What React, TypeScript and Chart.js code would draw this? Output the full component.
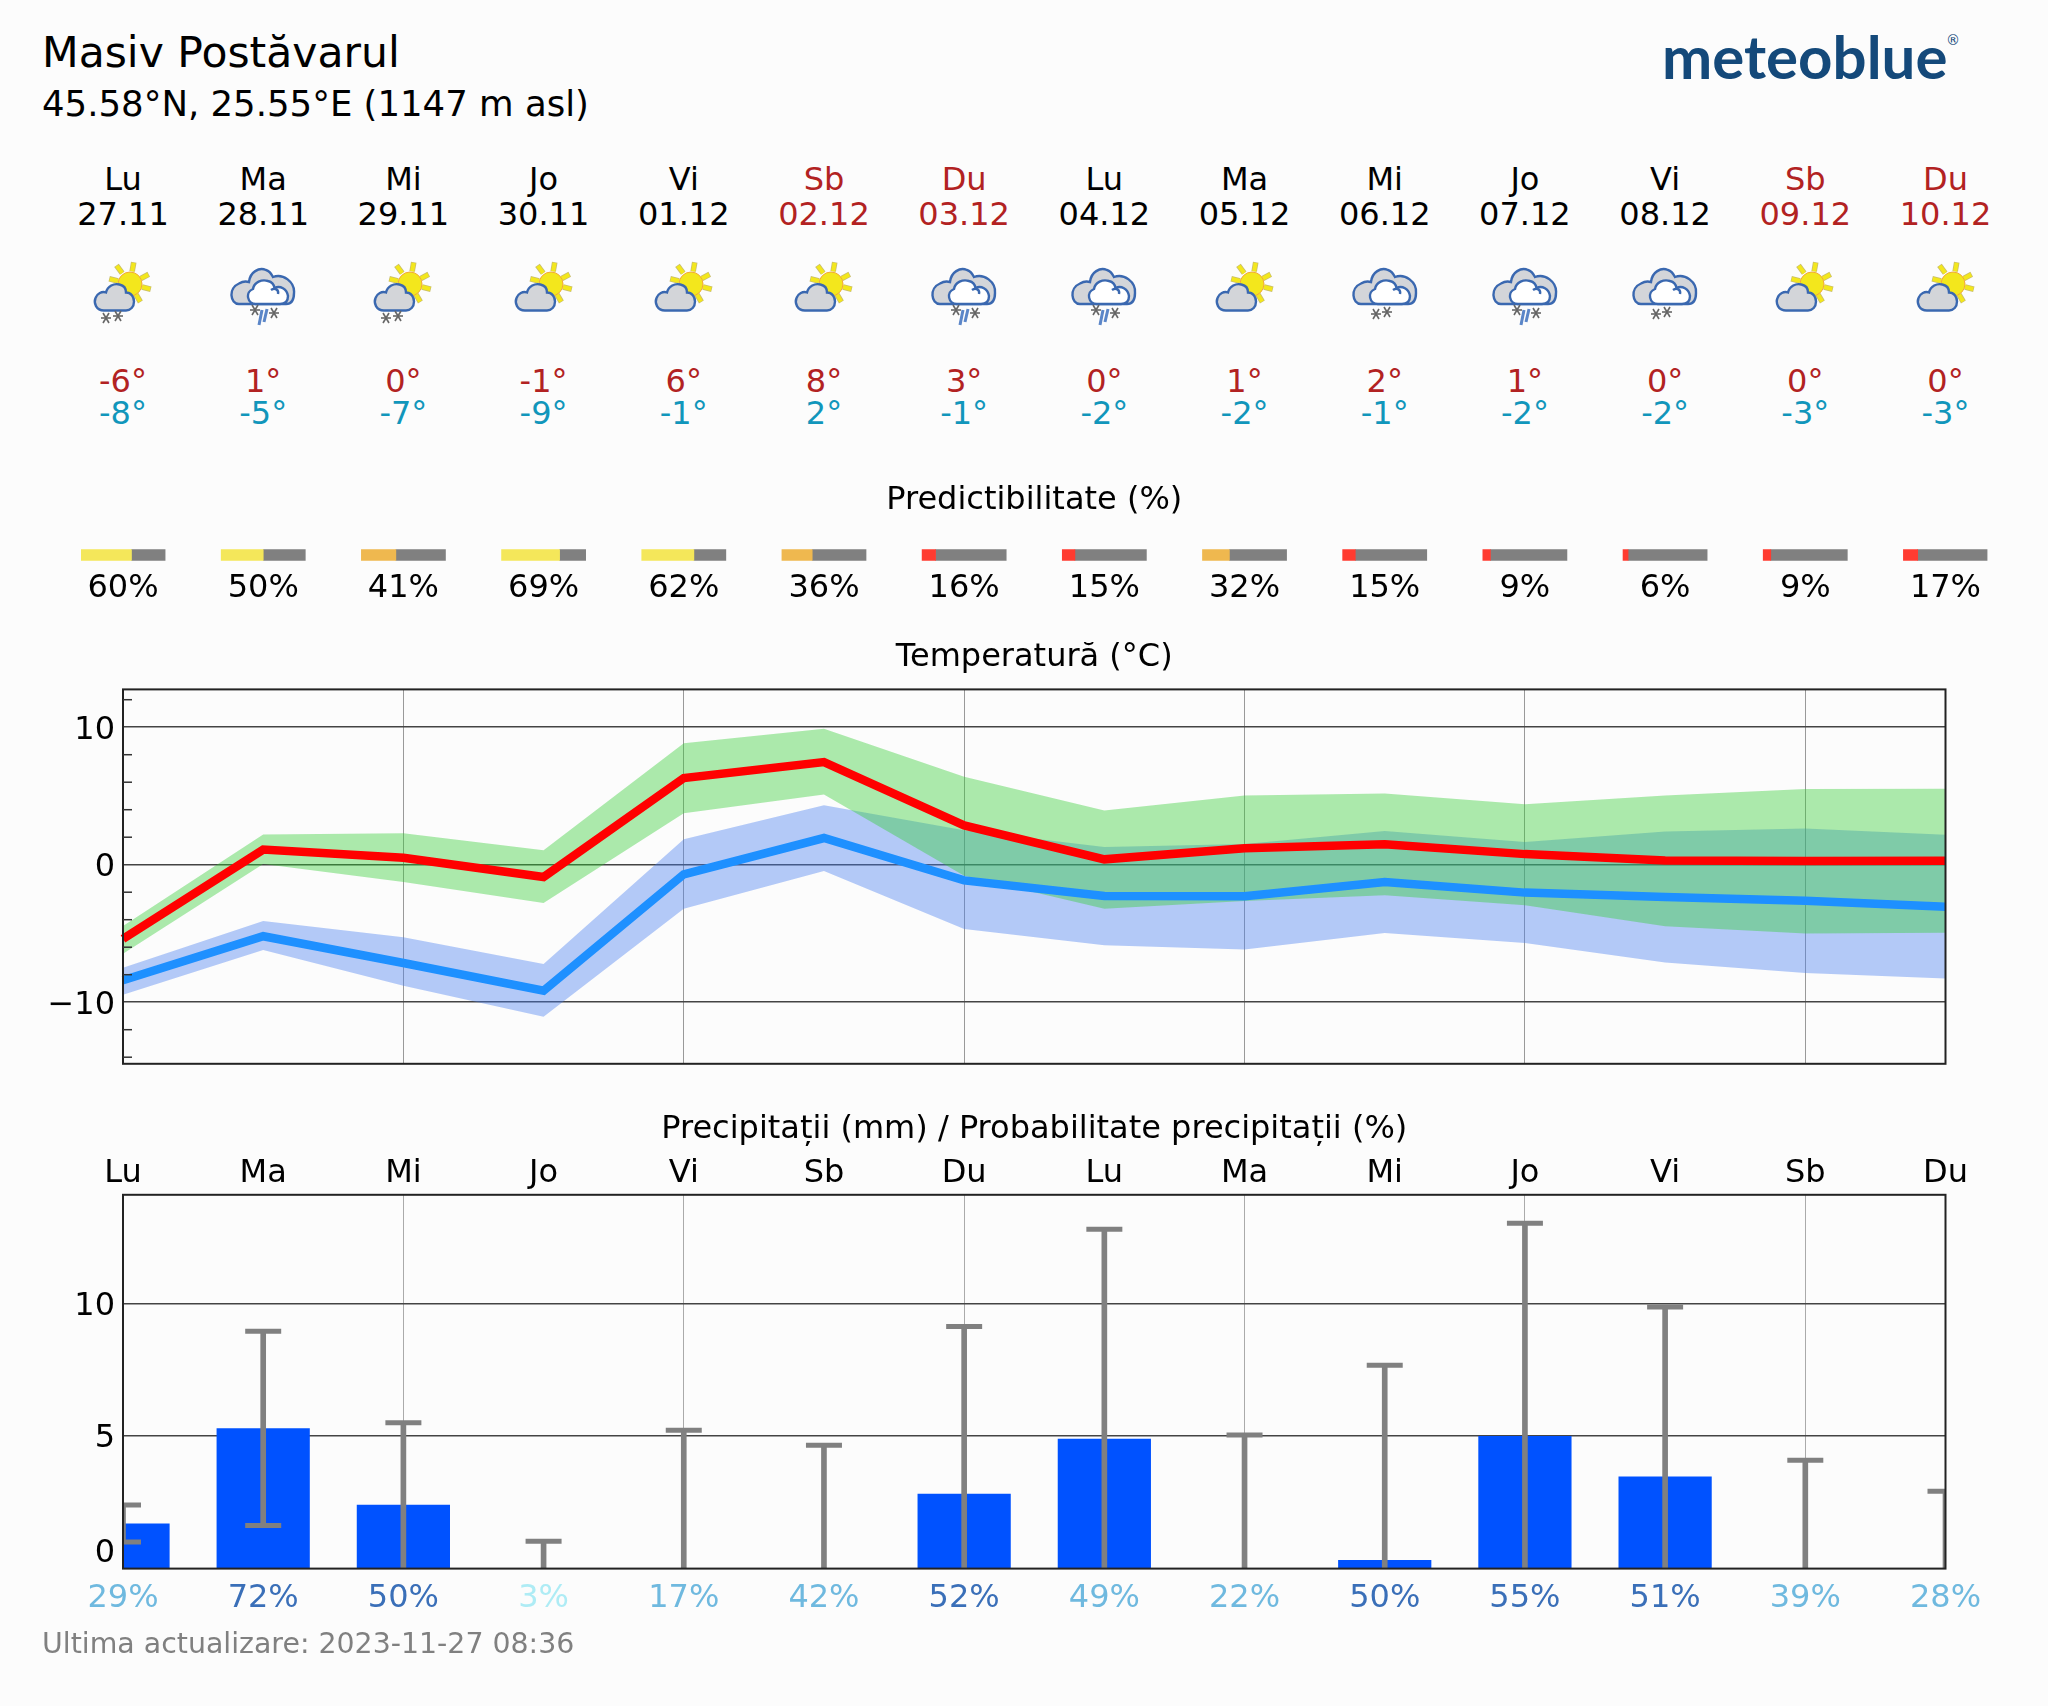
import React, { useEffect, useRef } from "react";
import Chart from "chart.js/auto";

const dayNames = ["Lu", "Ma", "Mi", "Jo", "Vi", "Sb", "Du", "Lu", "Ma", "Mi", "Jo", "Vi", "Sb", "Du"];
const dates = ["27.11", "28.11", "29.11", "30.11", "01.12", "02.12", "03.12", "04.12", "05.12", "06.12", "07.12", "08.12", "09.12", "10.12"];
const weatherIcons = ["sunSnow", "mixed", "sunSnow", "sun", "sun", "sun", "mixed", "mixed", "sun", "snow", "mixed", "snow", "sun", "sun"];
const highLabels = ["-6°", "1°", "0°", "-1°", "6°", "8°", "3°", "0°", "1°", "2°", "1°", "0°", "0°", "0°"];
const lowLabels = ["-8°", "-5°", "-7°", "-9°", "-1°", "2°", "-1°", "-2°", "-2°", "-1°", "-2°", "-2°", "-3°", "-3°"];
const predictability = [60, 50, 41, 69, 62, 36, 16, 15, 32, 15, 9, 6, 9, 17];

const maxTemp = [-5.4, 1.1, 0.5, -0.9, 6.3, 7.46, 2.86, 0.39, 1.2, 1.48, 0.77, 0.31, 0.27, 0.29];
const maxUpper = [-4.45, 2.2, 2.28, 1.06, 8.84, 9.88, 6.4, 3.95, 5.04, 5.18, 4.4, 5.04, 5.5, 5.52];
const maxLower = [-6.48, 0.05, -1.25, -2.78, 3.75, 5.1, -0.8, -3.2, -2.64, -2.23, -2.95, -4.48, -5.0, -4.94];
const minTemp = [-8.4, -5.2, -7.15, -9.17, -0.7, 1.94, -1.14, -2.28, -2.3, -1.26, -2.03, -2.35, -2.62, -3.05];
const minUpper = [-7.5, -4.09, -5.28, -7.23, 1.86, 4.33, 2.5, 1.28, 1.5, 2.45, 1.65, 2.42, 2.64, 2.18];
const minLower = [-9.45, -6.2, -8.8, -11.06, -3.2, -0.46, -4.67, -5.86, -6.17, -4.96, -5.69, -7.12, -7.87, -8.28];

const precipitation = [1.7, 5.29, 2.41, 0, 0, 0, 2.82, 4.9, 0, 0.32, 5.0, 3.47, 0, 0];
const precipHigh = [2.4, 8.95, 5.5, 1.03, 5.22, 4.65, 9.13, 12.8, 5.04, 7.67, 13.03, 9.87, 4.09, 2.92];
const precipLow = [1.0, 1.63, 0, 0, 0, 0, 0, 0, 0, 0, 0, 0, 0, 0];
const precipProbability = [29, 72, 50, 3, 17, 42, 52, 49, 22, 50, 55, 51, 39, 28];

const FONT = "'DejaVu Sans'";
const FS = 32;
const BG = "#fcfcfc";
const FIREBRICK = "#b22222";
const LEFT = 123;
const RIGHT = 1945.5;
const DAY = (RIGHT - LEFT) / 13;

const frame = {
  id: "frame",
  afterDraw(chart: any) {
    const { ctx, chartArea: a } = chart;
    ctx.save();
    ctx.strokeStyle = "#222";
    ctx.lineWidth = 2;
    ctx.strokeRect(a.left, a.top, a.right - a.left, a.bottom - a.top);
    ctx.restore();
  },
};

const innerMinorTicks = {
  id: "innerMinorTicks",
  afterDraw(chart: any) {
    const { ctx, chartArea: a, scales } = chart;
    ctx.save();
    ctx.strokeStyle = "#333";
    ctx.lineWidth = 1.5;
    for (const t of scales.y.ticks) {
      if (t.value % 10 === 0) continue;
      const y = scales.y.getPixelForValue(t.value);
      ctx.beginPath();
      ctx.moveTo(a.left, y);
      ctx.lineTo(a.left + 9, y);
      ctx.stroke();
    }
    ctx.restore();
  },
};

const verticalGrid = (color: string) => (c: any) =>
  c.index > 0 && c.index < 13 && c.index % 2 === 0 ? color : "transparent";

function tempChart(canvas: HTMLCanvasElement) {
  const band = (data: number[], target: number | false, fillColor: string) => ({
    type: "line",
    data,
    borderColor: "transparent",
    borderWidth: 0,
    pointRadius: 0,
    fill: target === false ? false : { target },
    backgroundColor: fillColor,
  });
  const line = (data: number[], color: string) => ({
    type: "line",
    data,
    borderColor: color,
    borderWidth: 8.5,
    borderJoinStyle: "miter",
    pointRadius: 0,
    fill: false,
  });
  return new Chart(canvas, {
    type: "line",
    data: {
      labels: dayNames,
      datasets: [
        line(maxTemp, "#ff0000"),
        line(minTemp, "#1e90ff"),
        band(maxUpper, 3, "rgba(50,205,50,0.4)"),
        band(maxLower, false, "transparent"),
        band(minUpper, 5, "rgba(70,125,240,0.4)"),
        band(minLower, false, "transparent"),
      ] as any,
    },
    plugins: [frame, innerMinorTicks],
    options: {
      animation: false,
      responsive: false,
      layout: { padding: { left: 43, right: 102.5, top: 6, bottom: 4 } },
      plugins: {
        legend: { display: false },
        tooltip: { enabled: false },
        title: {
          display: true,
          text: "Temperatură (°C)",
          fullSize: false,
          color: "#000",
          font: { family: FONT, size: FS, weight: "normal" },
          padding: { top: 0, bottom: 13 },
        },
      },
      scales: {
        x: {
          type: "category",
          offset: false,
          ticks: { display: false, autoSkip: false },
          grid: { color: verticalGrid("#999"), lineWidth: 1, drawTicks: false },
          border: { display: false },
        },
        y: {
          min: -14.48,
          max: 12.75,
          afterFit(s: any) {
            s.width = 80;
          },
          ticks: {
            stepSize: 2,
            includeBounds: false,
            autoSkip: false,
            padding: 8,
            labelOffset: 3,
            color: "#000",
            font: { family: FONT, size: FS },
            callback: (v: any) => (v % 10 === 0 ? (v < 0 ? "\u2212" + Math.abs(v) : String(v)) : ""),
          },
          grid: {
            drawTicks: false,
            lineWidth: 1.5,
            color: (c: any) => (c.tick && c.tick.value % 10 === 0 ? "#444" : "transparent"),
          },
          border: { display: false },
        },
      },
    } as any,
  });
}

const ZERO_LABEL_VALUE = 0.67;
const probabilityColor = (p: number) => (p < 10 ? "#aeecf5" : p < 50 ? "#6fb9df" : "#3a6fb8");

function precipChart(canvas: HTMLCanvasElement) {
  const caps = (data: (number | null)[]) => ({
    type: "line",
    data,
    showLine: false,
    clip: 0,
    pointStyle: "line",
    pointRadius: 18,
    pointBorderWidth: 5,
    pointBorderColor: "#808080",
    pointBackgroundColor: "#808080",
  });
  return new Chart(canvas, {
    type: "bar",
    data: {
      labels: dayNames,
      datasets: [
        caps(precipHigh),
        caps(precipLow.map((v) => (v > 0 ? v : null))),
        {
          type: "bar",
          data: precipHigh.map((h, i) => [precipLow[i], h]),
          backgroundColor: "#808080",
          barThickness: 5,
          grouped: false,
        },
        {
          type: "bar",
          data: precipitation,
          backgroundColor: "#0052ff",
          barPercentage: 0.665,
          categoryPercentage: 1,
          grouped: false,
        },
      ] as any,
    },
    plugins: [frame],
    options: {
      animation: false,
      responsive: false,
      layout: { padding: { left: 43, right: 102.5, top: 6, bottom: 4 } },
      plugins: {
        legend: { display: false },
        tooltip: { enabled: false },
        title: {
          display: true,
          text: "Precipitații (mm) / Probabilitate precipitații (%)",
          fullSize: false,
          color: "#000",
          font: { family: FONT, size: FS, weight: "normal" },
          padding: { top: 0, bottom: 4 },
        },
      },
      scales: {
        x: {
          type: "category",
          position: "top",
          offset: false,
          ticks: {
            autoSkip: false,
            maxRotation: 0,
            padding: 2,
            color: "#000",
            font: { family: FONT, size: FS },
          },
          grid: { offset: false, color: verticalGrid("#aaa"), lineWidth: 1, drawTicks: false },
          border: { display: false },
        },
        x2: {
          type: "category",
          position: "bottom",
          offset: false,
          labels: precipProbability.map((p) => p + "%"),
          ticks: {
            autoSkip: false,
            maxRotation: 0,
            padding: 11,
            font: { family: FONT, size: FS },
            color: (c: any) => probabilityColor(precipProbability[c.index]),
          },
          grid: { display: false, drawTicks: false },
          border: { display: false },
        },
        y: {
          min: 0,
          max: 14.1,
          afterFit(s: any) {
            s.width = 80;
          },
          afterBuildTicks(s: any) {
            s.ticks = [{ value: ZERO_LABEL_VALUE }, { value: 5 }, { value: 10 }];
          },
          ticks: {
            autoSkip: false,
            padding: 8,
            labelOffset: 3,
            color: "#000",
            font: { family: FONT, size: FS },
            callback: (v: any) => (v === ZERO_LABEL_VALUE ? "0" : String(v)),
          },
          grid: {
            drawTicks: false,
            lineWidth: 1.5,
            color: (c: any) => (c.tick && c.tick.value !== ZERO_LABEL_VALUE ? "#444" : "transparent"),
          },
          border: { display: false },
        },
      },
    } as any,
  });
}

const predictabilityColor = (p: number) => (p >= 50 ? "#f4e75a" : p >= 20 ? "#efb84f" : "#ff3b30");
const BAR_HALF = 0.3;

function predictChart(canvas: HTMLCanvasElement) {
  const datasets: any[] = [];
  predictability.forEach((p, i) => {
    const start = i - BAR_HALF;
    const split = start + (2 * BAR_HALF * p) / 100;
    datasets.push({ data: [[start, split]], backgroundColor: predictabilityColor(p), barThickness: 11, grouped: false });
    datasets.push({ data: [[split, i + BAR_HALF]], backgroundColor: "#808080", barThickness: 11, grouped: false });
  });
  return new Chart(canvas, {
    type: "bar",
    data: { labels: [""], datasets },
    options: {
      animation: false,
      responsive: false,
      indexAxis: "y",
      layout: { padding: { left: 81, right: 60.5, top: 0, bottom: 0 } },
      plugins: {
        legend: { display: false },
        tooltip: { enabled: false },
        title: {
          display: true,
          text: "Predictibilitate (%)",
          fullSize: false,
          color: "#000",
          font: { family: FONT, size: FS, weight: "normal" },
          padding: { top: 0, bottom: 22 },
        },
      },
      scales: {
        x: {
          type: "linear",
          min: -BAR_HALF,
          max: 13 + BAR_HALF,
          afterBuildTicks(s: any) {
            s.ticks = predictability.map((_, i) => ({ value: i }));
          },
          ticks: {
            autoSkip: false,
            maxRotation: 0,
            padding: 1,
            color: "#000",
            font: { family: FONT, size: FS },
            callback: (v: any) => predictability[v] + "%",
          },
          grid: { display: false, drawTicks: false },
          border: { display: false },
        },
        y: {
          type: "category",
          ticks: { display: false },
          grid: { display: false, drawTicks: false },
          border: { display: false },
        },
      },
    } as any,
  });
}

function Txt({ x, y, color = "#000", size = FS, align = "center", children }: any) {
  const tx = align === "center" ? "-50%" : "0";
  return (
    <div
      style={{
        position: "absolute",
        left: x,
        top: y,
        transform: `translate(${tx},-50%)`,
        fontFamily: FONT,
        fontSize: size,
        lineHeight: 1.2,
        color,
        whiteSpace: "nowrap",
      }}
    >
      {children}
    </div>
  );
}

const sunRays = [[-13, -18], [3.6, -21], [18, -9.3], [20, 5], [10, 17.3], [-20, -5]];

function Flake({ x, y }: any) {
  return (
    <g stroke="#666" strokeWidth={1.6}>
      <line x1={x - 5} y1={y} x2={x + 5} y2={y} />
      <line x1={x - 3} y1={y - 5} x2={x + 3} y2={y + 5} />
      <line x1={x + 3} y1={y - 5} x2={x - 3} y2={y + 5} />
    </g>
  );
}

function WeatherIcon({ kind, x }: any) {
  const sunny = kind === "sun" || kind === "sunSnow";
  return (
    <svg
      viewBox="-40 255 80 80"
      width={80}
      height={80}
      style={{ position: "absolute", left: x - 40, top: 255, overflow: "visible" }}
    >
      {sunny && (
        <g>
          {sunRays.map(([dx, dy], i) => {
            const cx = 7;
            const s = 0.6;
            const e = 1.04;
            return (
              <g key={i}>
                <line x1={cx + dx * s} y1={284 + dy * s} x2={cx + dx * e} y2={284 + dy * e} stroke="#c9be6a" strokeWidth={5.6} />
                <line x1={cx + dx * s} y1={284 + dy * s} x2={cx + dx * e * 0.97} y2={284 + dy * e * 0.97} stroke="#f3e71c" strokeWidth={4} />
              </g>
            );
          })}
          <circle cx={7} cy={284} r={12} fill="#f3e71c" stroke="#f2a83a" strokeWidth={1} />
          <path
            d="M-19 310.5 C-27 310.5 -29.5 303 -27.5 298 C-26 293.5 -21 291 -17 292.5 C-15.5 286 -9 283 -3.5 284.5 C1 285.5 3 289 3 292.5 C8 292.5 11 297 11 301.5 C11 307 7.5 310.5 3 310.5 Z"
            fill="#d3d5d9"
            stroke="#3a68b0"
            strokeWidth={2.4}
          />
        </g>
      )}
      {!sunny && (
        <g stroke="#3a68b0" strokeWidth={2.4}>
          <path
            d="M-24 304 C-33 304 -35 288 -24 283.5 C-20 281 -17 281 -14 282 C-13 272 -4 267 3 270 C7 271 9 275 10 277 C20 273 32 282 31 293 C31 300 28 304 23 304 Z"
            fill="#d3d5d9"
          />
          <path
            d="M-7 304 C-16 304 -18 292 -10 289 C-9 282 -1 279 5 281 C9 282 11 285 11.5 288 C17 285 24 289 25 296 C25 301 22 304 17 304 Z"
            fill="#fff"
          />
          <path d="M8 290 C12 287 16 290 15 294" fill="none" />
        </g>
      )}
      {kind === "sunSnow" && (
        <g>
          <Flake x={-17} y={318} />
          <Flake x={-5} y={316} />
        </g>
      )}
      {kind === "snow" && (
        <g>
          <Flake x={-9} y={314} />
          <Flake x={2} y={312} />
        </g>
      )}
      {kind === "mixed" && (
        <g>
          <Flake x={-8} y={310} />
          <Flake x={11} y={313} />
          <line x1={-1} y1={310} x2={-4} y2={325} stroke="#5b86c8" strokeWidth={3} />
          <line x1={4} y1={309} x2={1} y2={322} stroke="#5b86c8" strokeWidth={3} />
        </g>
      )}
    </svg>
  );
}

export default function App() {
  const tempRef = useRef<HTMLCanvasElement>(null);
  const precipRef = useRef<HTMLCanvasElement>(null);
  const predictRef = useRef<HTMLCanvasElement>(null);

  useEffect(() => {
    document.body.style.margin = "0";
    document.body.style.background = BG;
    const charts = [
      tempChart(tempRef.current!),
      precipChart(precipRef.current!),
      predictChart(predictRef.current!),
    ];
    return () => charts.forEach((c) => c.destroy());
  }, []);

  const cv = (top: number): any => ({ position: "absolute", left: 0, top });
  const dayX = (i: number) => LEFT + i * DAY;

  return (
    <div style={{ position: "relative", width: 2048, height: 1706, background: BG, overflow: "hidden" }}>
      <canvas ref={predictRef} width={2048} height={128} style={cv(481)} />
      <canvas ref={tempRef} width={2048} height={459} style={cv(632)} />
      <canvas ref={precipRef} width={2048} height={529} style={cv(1104)} />

      <Txt x={42} y={52} size={42.5} align="left">Masiv Postăvarul</Txt>
      <Txt x={42} y={104} size={35.5} align="left">45.58°N, 25.55°E (1147 m asl)</Txt>

      <div
        style={{
          position: "absolute",
          left: 1662,
          top: 56,
          transform: "translateY(-50%)",
          fontFamily: "Lato",
          fontWeight: 700,
          fontSize: 60,
          lineHeight: 1,
          color: "#14497a",
          whiteSpace: "nowrap",
        }}
      >
        meteoblue
      </div>
      <div style={{ position: "absolute", left: 1946, top: 32, fontFamily: FONT, fontSize: 14, color: "#14497a" }}>®</div>

      {dayNames.map((d, i) => {
        const weekend = d === "Sb" || d === "Du";
        const c = weekend ? FIREBRICK : "#000";
        return (
          <React.Fragment key={i}>
            <Txt x={dayX(i)} y={179} color={c}>{d}</Txt>
            <Txt x={dayX(i)} y={214} color={c}>{dates[i]}</Txt>
            <WeatherIcon kind={weatherIcons[i]} x={dayX(i)} />
            <Txt x={dayX(i)} y={381} color={FIREBRICK}>{highLabels[i]}</Txt>
            <Txt x={dayX(i)} y={413} color="#1196bb">{lowLabels[i]}</Txt>
          </React.Fragment>
        );
      })}

      <Txt x={42} y={1644} size={28.4} color="#808080" align="left">Ultima actualizare: 2023-11-27 08:36</Txt>
    </div>
  );
}
